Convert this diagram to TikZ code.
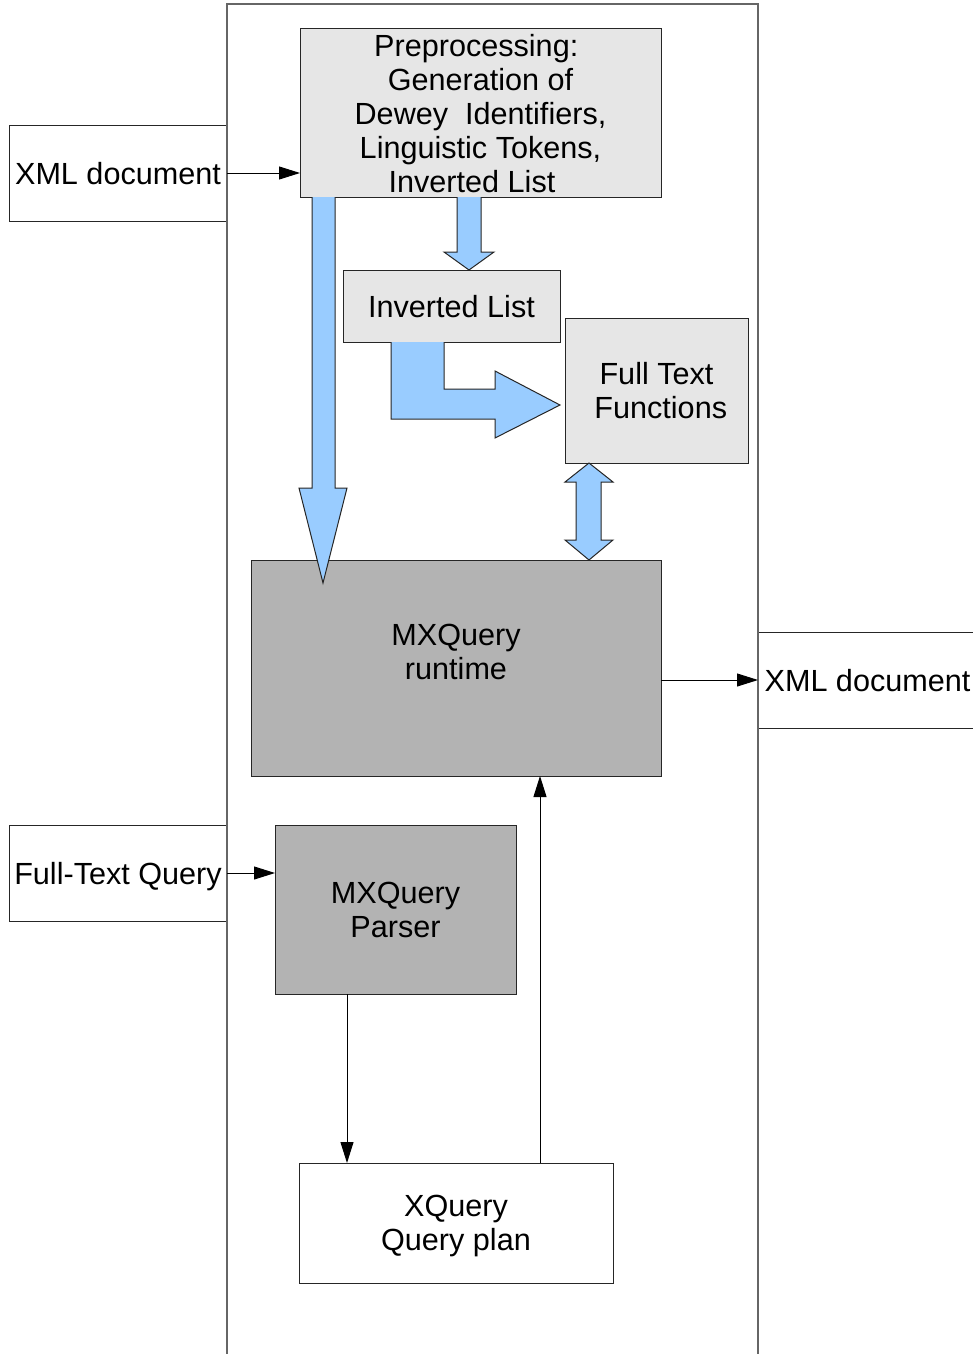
\documentclass[tikz,border=0pt]{standalone}
\usepackage{fontspec}
\setmainfont{Liberation Sans}
\usetikzlibrary{arrows.meta,calc}
\definecolor{lightbox}{HTML}{E6E6E6}
\definecolor{darkbox}{HTML}{B3B3B3}
\definecolor{bluearrow}{HTML}{99CCFF}
\begin{document}
\begin{tikzpicture}[x=1pt,y=-1pt,
  every node/.style={font=\fontsize{30.6}{34}\selectfont},
  box/.style={draw=black!85, line width=1pt, inner sep=0pt, outer sep=0pt,
    anchor=north west, align=center, text depth=0pt},
  txt/.style={inner sep=0pt, outer sep=0pt, align=center, text depth=0pt},
  frame/.style={draw=black!60, line width=1.2pt},
  flow/.style={draw=black, line width=1pt, -{Triangle[length=21pt,width=13pt]}},
  block/.style={draw=black!85, line width=1pt, fill=bluearrow, line join=miter}
]
\useasboundingbox (0,0) rectangle (973,1354);
% outer frame
\draw[frame] (227,1360) -- (227,4) -- (758,4) -- (758,1360);

% boxes
\node[box, fill=white, minimum width=218pt, minimum height=96pt] (xmlin) at (9,125) {XML document};
\node[box, fill=lightbox, minimum width=361pt, minimum height=168pt] (pre) at (300,29)
  {Preprocessing:\kern8.5pt\\Generation of\\Dewey\ \ Identifiers,\\Linguistic Tokens,\\Inverted List\kern17pt};
\node[box, fill=lightbox, minimum width=217pt, minimum height=72pt] (inv) at (343,270) {Inverted List};
\node[box, fill=lightbox, minimum width=183pt, minimum height=145pt] (ftf) at (565,318) {Full Text\\\kern8.5pt Functions};
\node[box, fill=darkbox, minimum width=410pt, minimum height=216pt] (rt) at (251,560) {};
\node[txt] (rtlabel) at (456,652) {MXQuery\\runtime};
\node[box, fill=white, minimum width=219pt, minimum height=96pt] (xmlout) at (758,632) {};
\node[txt] (xmloutlabel) at (867.5,680) {XML document};
\node[box, fill=white, minimum width=218pt, minimum height=96pt] (ftq) at (9,825) {Full-Text Query};
\node[box, fill=darkbox, minimum width=241pt, minimum height=169pt] (parser) at (275,825) {MXQuery\\Parser};
\node[box, fill=white, minimum width=314pt, minimum height=120pt] (plan) at (299,1163) {XQuery\\Query plan};

% redraw frame lines over box edges
\draw[frame] (227,120) -- (227,230);
\draw[frame] (227,820) -- (227,930);
\draw[frame] (758,620) -- (758,740);

% blue block arrows
\draw[block] (312,197) -- (312,488) -- (299,488) -- (323,583) -- (347,488) -- (335,488) -- (335,197);
\draw[block] (457,197) -- (457,252) -- (444,252) -- (469,270) -- (494,252) -- (481,252) -- (481,197);
\draw[block] (391,342) -- (391,419) -- (495,419) -- (495,438) -- (560,405) -- (495,371) -- (495,389) -- (444,389) -- (444,342);
\draw[block] (589,463) -- (613,482) -- (601,482) -- (601,540) -- (613,540) -- (589,560)
  -- (565,540) -- (576,540) -- (576,482) -- (565,482) -- cycle;

% thin arrows
\draw[flow] (xmlin.east) -- (xmlin.east -| pre.west);
\draw[flow] (xmlout.west -| rt.east) -- (xmlout.west);
\draw[flow] (ftq.east) -- (ftq.east -| parser.west);
\coordinate (pout) at ([xshift=72pt]parser.south west);
\draw[flow] (pout) -- (pout |- plan.north);
\coordinate (plout) at ([xshift=241pt]plan.north west);
\draw[flow] (plout) -- (plout |- rt.south);
\end{tikzpicture}
\end{document}
